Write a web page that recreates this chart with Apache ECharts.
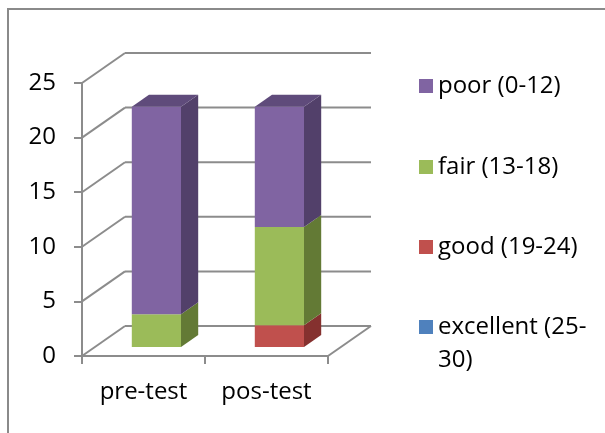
<!DOCTYPE html>
<html>
<head>
<meta charset="utf-8">
<title>pre-test / pos-test</title>
<script src="https://cdn.jsdelivr.net/npm/echarts@6/dist/echarts.min.js"></script>
<style>
  html, body { margin: 0; padding: 0; background: #fff; }
  #chart { width: 605px; height: 433px; }
</style>
</head>
<body>
<div id="chart"></div>
<script>
// data
const categories = ['pre-test', 'pos-test'];
const seriesNames = ['excellent (25-30)', 'good (19-24)', 'fair (13-18)', 'poor (0-12)'];
const excellent = [0, 0];
const good = [0, 2];
const fair = [3, 9];
const poor = [19, 11];
const yTicks = [0, 5, 10, 15, 20, 25];

const seriesValues = [excellent, good, fair, poor];

// excel-ish 3d look
const frontColors = ['#4F81BD', '#C0504D', '#9BBB59', '#8064A2'];
const sideColors = ['#3A5F8C', '#85312F', '#637A35', '#52406A'];
const topColors = ['#46719F', '#A3413E', '#82A04A', '#5F4B7B'];
const lineColor = '#8C8C8C';
const font = 'Open Sans';
const fontSize = 24;

const DX = 43, DY = -30;          // depth of the box
const BAR_RATIO = 0.4;            // bar width / band width
const BAR_DEPTH = 0.4;            // bar depth / box depth
const FRONT_OFFSET = (1 - BAR_DEPTH) / 2;

// stacking
const totals = categories.map((c, i) => seriesValues.reduce((s, arr) => s + arr[i], 0));
const stacked = [];
let running = categories.map(() => 0);
seriesValues.forEach(arr => {
  stacked.push(arr.map((v, i) => [i, running[i], running[i] + v]));
  running = running.map((r, i) => r + arr[i]);
});

function seg(x1, y1, x2, y2) {
  return {
    type: 'line',
    shape: { x1: x1, y1: y1, x2: x2, y2: y2 },
    style: { stroke: lineColor, lineWidth: 2 }
  };
}

function renderWalls(params, api) {
  const cs = params.coordSys;
  const v = api.value(1);
  const y = api.coord([0, v])[1];
  const xl = cs.x, xr = cs.x + cs.width;
  const children = [
    seg(xl, y, xl + DX, y + DY),
    seg(xl + DX, y + DY, xr + DX, y + DY)
  ];
  if (v === 0) children.push(seg(xr, y, xr + DX, y + DY));
  return { type: 'group', children: children };
}

function makeBarRenderer(k) {
  return function (params, api) {
    const cat = api.value(0), lo = api.value(1), hi = api.value(2);
    if (hi <= lo) return;
    const bw = api.size([1, 0])[0] * BAR_RATIO;
    const a = api.coord([cat, lo]);
    const b = api.coord([cat, hi]);
    const ox = DX * FRONT_OFFSET, oy = DY * FRONT_OFFSET;
    const dx = DX * BAR_DEPTH, dy = DY * BAR_DEPTH;
    const x0 = a[0] - bw / 2 + ox, x1 = x0 + bw;
    const yb = a[1] + oy, yt = b[1] + oy;
    const children = [
      {
        type: 'polygon',
        shape: { points: [[x1, yb], [x1 + dx, yb + dy], [x1 + dx, yt + dy], [x1, yt]] },
        style: { fill: sideColors[k] }
      },
      {
        type: 'rect',
        shape: { x: x0, y: yt, width: bw, height: yb - yt },
        style: { fill: frontColors[k] }
      }
    ];
    if (hi === totals[cat]) {
      children.push({
        type: 'polygon',
        shape: { points: [[x0, yt], [x1, yt], [x1 + dx, yt + dy], [x0 + dx, yt + dy]] },
        style: { fill: topColors[k] }
      });
    }
    return { type: 'group', children: children };
  };
}

const chart = echarts.init(document.getElementById('chart'));

const legendCenters = [86, 167, 247, 327];
const legendNames = seriesNames.slice().reverse();
const LH = 33;
const legends = legendNames.map((name, i) => {
  // the long name wraps; an empty first line keeps the marker level with line one
  const last = name.indexOf('excellent') === 0;
  return {
    data: [name],
    orient: 'vertical',
    left: 419,
    top: last ? legendCenters[i] - LH * 1.5 : legendCenters[i] - fontSize / 2,
    padding: 0,
    icon: 'rect',
    itemWidth: 14,
    itemHeight: 14,
    selectedMode: false,
    formatter: last ? ' \nexcellent (25-\n30)' : '{name}',
    textStyle: last
      ? { fontFamily: font, fontSize: fontSize, color: '#000', lineHeight: LH }
      : { fontFamily: font, fontSize: fontSize, color: '#000' }
  };
});

const series = [{
  type: 'custom',
  name: 'walls',
  renderItem: renderWalls,
  data: yTicks.map(v => [0, v]),
  encode: { x: 0, y: 1 },
  z: 1,
  silent: true
}];
seriesNames.forEach((name, k) => {
  series.push({
    type: 'custom',
    name: name,
    renderItem: makeBarRenderer(k),
    itemStyle: { color: frontColors[k] },
    data: stacked[k],
    encode: { x: 0, y: [1, 2] },
    z: 2
  });
});

chart.setOption({
  animation: false,
  grid: { left: 82, top: 83, width: 246, height: 273, containLabel: false },
  xAxis: {
    type: 'category',
    data: categories,
    axisLine: { show: true, lineStyle: { color: lineColor, width: 2 } },
    axisTick: { show: true, length: 8, alignWithLabel: false, lineStyle: { color: lineColor, width: 2 } },
    axisLabel: { margin: 24, fontFamily: font, fontSize: fontSize, color: '#000' },
    splitLine: { show: false }
  },
  yAxis: {
    type: 'value',
    min: 0,
    max: 25,
    interval: 5,
    axisLine: { show: true, lineStyle: { color: lineColor, width: 2 } },
    axisTick: { show: true, length: 8, lineStyle: { color: lineColor, width: 2 } },
    axisLabel: { margin: 26, fontFamily: font, fontSize: fontSize, color: '#000' },
    splitLine: { show: false }
  },
  legend: legends,
  graphic: [{
    type: 'rect',
    silent: true,
    shape: { x: 8, y: 9, width: 800, height: 600 },
    style: { fill: 'none', stroke: '#8A8A8A', lineWidth: 2 }
  }],
  series: series
});
</script>
</body>
</html>
